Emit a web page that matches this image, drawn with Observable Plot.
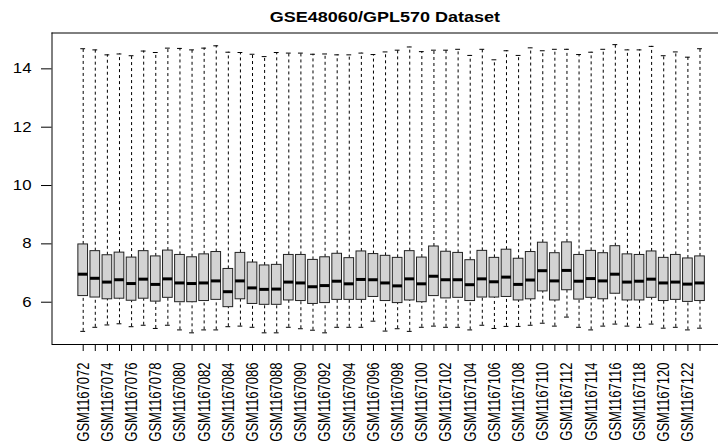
<!DOCTYPE html>
<html>
<head>
<meta charset="utf-8">
<script src="https://cdn.jsdelivr.net/npm/d3@7"></script>
<script src="https://cdn.jsdelivr.net/npm/@observablehq/plot@0.6"></script>
<style>
  html, body { margin: 0; padding: 0; background: #fff; }
  body { width: 718px; height: 445px; overflow: hidden; font-family: "Liberation Sans", Arial, Helvetica, sans-serif; }
  #title { height: 30px; margin-left: 51.5px; width: 666.5px; text-align: center; box-sizing: border-box; padding-top: 8px; }
  #title span { display: inline-block; font-weight: bold; font-size: 15px; line-height: 16px; color: #000; transform: scaleX(1.2); }
  svg { display: block; }
</style>
</head>
<body>
<div id="title"><span>GSE48060/GPL570 Dataset</span></div>
<div id="chart"></div>
<script>
const samples = [
  "GSM1167072","GSM1167073","GSM1167074","GSM1167075","GSM1167076","GSM1167077","GSM1167078","GSM1167079",
  "GSM1167080","GSM1167081","GSM1167082","GSM1167083","GSM1167084","GSM1167085","GSM1167086","GSM1167087",
  "GSM1167088","GSM1167089","GSM1167090","GSM1167091","GSM1167092","GSM1167093","GSM1167094","GSM1167095",
  "GSM1167096","GSM1167097","GSM1167098","GSM1167099","GSM1167100","GSM1167101","GSM1167102","GSM1167103",
  "GSM1167104","GSM1167105","GSM1167106","GSM1167107","GSM1167108","GSM1167109","GSM1167110","GSM1167111",
  "GSM1167112","GSM1167113","GSM1167114","GSM1167115","GSM1167116","GSM1167117","GSM1167118","GSM1167119",
  "GSM1167120","GSM1167121","GSM1167122","GSM1167123"
];
const whiskerHigh = [14.69,14.65,14.48,14.51,14.45,14.61,14.56,14.71,14.70,14.65,14.71,14.79,14.57,14.56,14.50,14.42,14.56,
  14.54,14.54,14.50,14.51,14.48,14.48,14.54,14.49,14.58,14.64,14.75,14.59,14.64,14.64,14.67,14.46,14.67,
  14.31,14.62,14.46,14.72,14.62,14.67,14.67,14.49,14.57,14.67,14.83,14.65,14.65,14.77,14.45,14.58,14.40,14.69];
const q3 = [7.98,7.75,7.61,7.70,7.53,7.75,7.57,7.77,7.62,7.54,7.64,7.72,7.14,7.69,7.36,7.26,7.28,
  7.62,7.62,7.45,7.54,7.66,7.51,7.74,7.65,7.59,7.52,7.75,7.53,7.91,7.73,7.69,7.44,7.76,
  7.52,7.80,7.49,7.72,8.04,7.68,8.05,7.62,7.76,7.68,7.92,7.64,7.62,7.74,7.52,7.62,7.50,7.57];
const median = [6.96,6.82,6.69,6.77,6.64,6.79,6.61,6.80,6.66,6.64,6.66,6.73,6.36,6.73,6.49,6.44,6.45,
  6.69,6.66,6.53,6.57,6.72,6.63,6.78,6.77,6.66,6.56,6.80,6.63,6.89,6.77,6.77,6.60,6.80,
  6.70,6.86,6.61,6.76,7.08,6.73,7.09,6.72,6.81,6.73,6.96,6.69,6.72,6.79,6.66,6.69,6.62,6.66];
const q1 = [6.21,6.16,6.10,6.12,6.05,6.12,6.02,6.15,6.00,6.00,6.04,6.08,5.83,6.10,5.94,5.91,5.91,
  6.06,6.04,5.94,5.97,6.08,6.08,6.08,6.18,6.04,5.97,6.06,6.00,6.21,6.13,6.15,6.04,6.16,
  6.16,6.18,6.06,6.10,6.37,6.06,6.41,6.09,6.15,6.10,6.29,6.06,6.06,6.15,6.04,6.08,6.01,6.04];
const whiskerLow = [5.00,5.14,5.22,5.26,5.16,5.21,5.10,5.21,5.05,4.95,5.05,5.05,5.16,5.18,5.14,4.95,4.95,
  5.14,5.09,5.04,4.95,5.14,5.14,5.14,5.35,5.01,5.09,5.00,5.14,5.18,5.14,5.14,5.05,5.21,
  5.10,5.17,5.17,5.21,5.28,5.18,5.49,5.14,5.05,5.18,5.25,5.18,5.14,5.25,5.11,5.14,5.05,5.11];
const yTicks = [6, 8, 10, 12, 14];

const rows = samples.map((s, k) => ({
  i: k + 1, sample: s,
  top: whiskerHigh[k], q3: q3[k], median: median[k], q1: q1[k], bottom: whiskerLow[k]
}));

const xDomain = [-1.58, 53.53];
const yDomain = [4.55, 15.229];
const half = 0.4, cap = 0.2;

const chart = Plot.plot({
  width: 718,
  height: 415,
  marginLeft: 51.5,
  marginRight: 0,
  marginTop: 2.5,
  marginBottom: 101,
  style: { fontFamily: '"Liberation Sans", Arial, Helvetica, sans-serif', color: "#000", background: "#fff" },
  x: { type: "linear", domain: xDomain },
  y: { domain: yDomain },
  marks: [
    Plot.ruleX(rows, { x: "i", y1: "q3", y2: "top", stroke: "#000", strokeWidth: 1, strokeDasharray: "3,3" }),
    Plot.ruleX(rows, { x: "i", y1: "bottom", y2: "q1", stroke: "#000", strokeWidth: 1, strokeDasharray: "3,3" }),
    Plot.ruleY(rows, { y: "top", x1: d => d.i - cap, x2: d => d.i + cap, stroke: "#000", strokeWidth: 1 }),
    Plot.ruleY(rows, { y: "bottom", x1: d => d.i - cap, x2: d => d.i + cap, stroke: "#000", strokeWidth: 1 }),
    Plot.rect(rows, { x1: d => d.i - half, x2: d => d.i + half, y1: "q1", y2: "q3", fill: "#d3d3d3", stroke: "#222", strokeWidth: 1 }),
    Plot.ruleY(rows, { y: "median", x1: d => d.i - half, x2: d => d.i + half, stroke: "#000", strokeWidth: 3 }),
    Plot.ruleX([xDomain[0]], { y1: yDomain[0], y2: yDomain[1], stroke: "#000" }),
    Plot.ruleY([yDomain[0], yDomain[1]], { stroke: "#000" }),
    Plot.axisY({ ticks: yTicks, tickSize: 10.5, tickPadding: 10, fontSize: 14, label: null, stroke: "#000", ariaLabel: "y-axis" }),
    Plot.axisX({
      ticks: rows.map(d => d.i),
      tickFormat: i => (i % 2 === 1 ? samples[i - 1] : ""),
      tickRotate: -90, tickSize: 7, tickPadding: 11, fontSize: 13, label: null, stroke: "#000"
    })
  ]
});
// Slightly widen glyphs to mimic the reference's wider rendering
d3.select(chart).selectAll('g[aria-label="x-axis tick label"] text').each(function () {
  const t = this.getAttribute("transform") || "";
  this.setAttribute("transform", t + " scale(1,1.3)");
});
d3.select(chart).selectAll('g[aria-label="y-axis tick label"] text').each(function () {
  const t = this.getAttribute("transform") || "";
  this.setAttribute("transform", t + " scale(1.2,1)");
});
document.getElementById("chart").append(chart);
</script>
</body>
</html>
